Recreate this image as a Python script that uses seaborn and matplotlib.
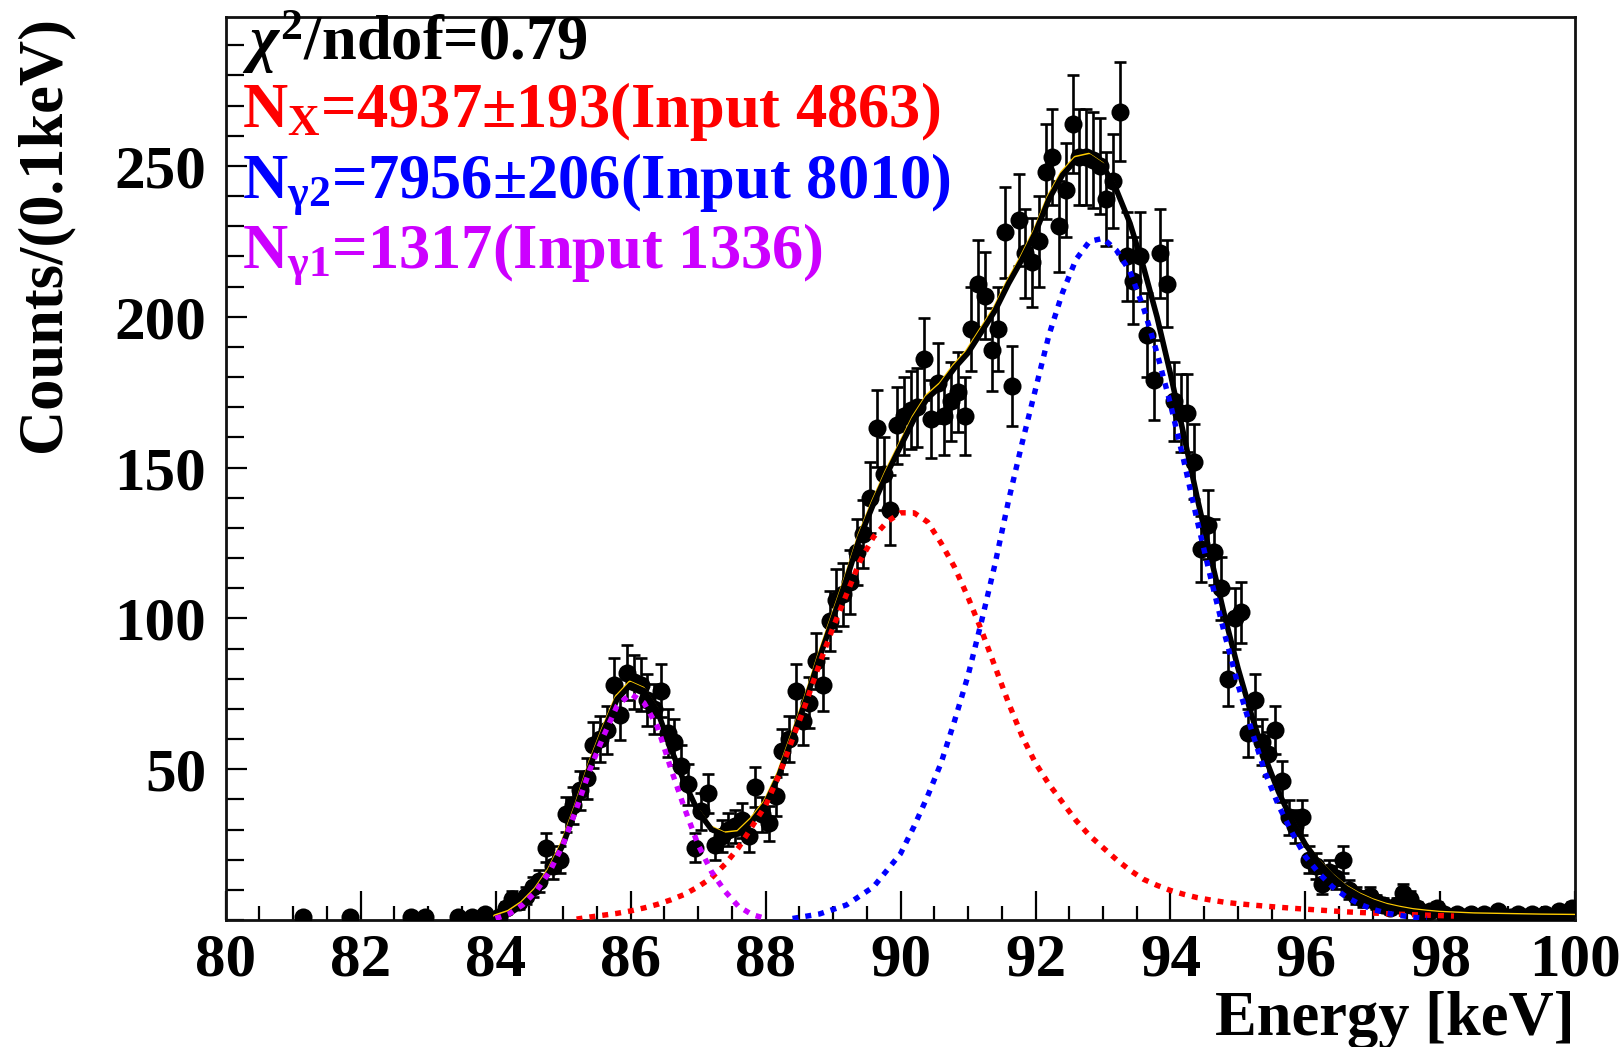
import numpy as np
import pandas as pd
import matplotlib
matplotlib.use("Agg")
import matplotlib.pyplot as plt
import matplotlib.transforms as mtransforms
from matplotlib.ticker import MultipleLocator, FixedLocator
import seaborn as sns

# ---------------- data ----------------
# histogram: 200 bins of 0.1 keV from 80 to 100 keV (counts per bin)
bin_low = 80.0
bin_width = 0.1
counts = [
    # 80.05 - 80.95
    0, 0, 0, 0, 0, 0, 0, 0, 0, 0,
    # 81.05 - 81.95
    0, 1, 0, 0, 0, 0, 0, 0, 1, 0,
    # 82.05 - 82.95
    0, 0, 0, 0, 0, 0, 0, 1, 0, 1,
    # 83.05 - 83.95
    0, 0, 0, 0, 1, 0, 1, 0, 2, 0,
    # 84.05 - 84.95
    1, 4, 7, 6, 8, 11, 13, 24, 18, 20,
    # 85.05 - 85.95
    35, 38, 43, 47, 58, 60, 63, 78, 68, 82,
    # 86.05 - 86.95
    79, 78, 73, 70, 76, 62, 59, 51, 45, 24,
    # 87.05 - 87.95
    36, 42, 25, 28, 30, 31, 33, 28, 44, 35,
    # 88.05 - 88.95
    32, 41, 56, 60, 76, 66, 72, 86, 78, 99,
    # 89.05 - 89.95
    106, 108, 112, 122, 128, 140, 163, 148, 136, 164,
    # 90.05 - 90.95
    167, 169, 170, 186, 166, 178, 167, 172, 175, 167,
    # 91.05 - 91.95
    196, 211, 207, 189, 196, 228, 177, 232, 221, 218,
    # 92.05 - 92.95
    225, 248, 253, 230, 242, 264, 253, 253, 252, 250,
    # 93.05 - 93.95
    239, 245, 268, 220, 212, 220, 194, 179, 221, 211,
    # 94.05 - 94.95
    172, 168, 168, 152, 123, 131, 122, 110, 80, 100,
    # 95.05 - 95.95
    102, 62, 73, 59, 55, 63, 46, 34, 31, 34,
    # 96.05 - 96.95
    20, 18, 12, 16, 14, 20, 10, 8, 7, 8,
    # 97.05 - 97.95
    6, 5, 4, 5, 9, 7, 4, 2, 3, 4,
    # 98.05 - 98.95
    2, 1, 2, 1, 2, 1, 2, 1, 3, 1,
    # 99.05 - 99.95
    1, 2, 1, 2, 1, 2, 1, 3, 1, 4,
]

# fit component N_gamma1 (violet dotted)
g1_energy = [84.0, 84.2, 84.4, 84.6, 84.8, 85.0, 85.2, 85.4, 85.6, 85.8, 86.0,
             86.2, 86.4, 86.6, 86.8, 87.0, 87.2, 87.4, 87.6, 87.8, 88.0]
g1_fit = [0.5, 2, 5, 9.5, 16, 25, 37, 50, 61, 71, 75,
          72, 64, 50, 37, 25, 16, 9.5, 4.5, 1.8, 0.5]

# fit component N_X (red dotted)
x_energy = [85.2, 85.4, 85.6, 85.8, 86.0, 86.2, 86.4, 86.6, 86.8, 87.0,
            87.2, 87.4, 87.6, 87.8, 88.0, 88.2, 88.4, 88.6, 88.8, 89.0,
            89.2, 89.4, 89.6, 89.8, 90.0, 90.2, 90.4, 90.6, 90.8, 91.0,
            91.2, 91.4, 91.6, 91.8, 92.0, 92.2, 92.4, 92.6, 92.8, 93.0,
            93.2, 93.4, 93.6, 93.8, 94.0, 94.2, 94.4, 94.6, 94.8, 95.0,
            95.4, 95.8, 96.2, 96.6, 97.0, 97.4, 97.8, 98.2]
x_fit = [0.3, 1, 1.6, 2.2, 3, 4, 5.2, 6.7, 8.5, 11,
         14, 18.5, 24, 31, 38, 48, 60, 72, 85, 97,
         108, 119, 127, 132, 135, 135, 132, 125, 117, 107,
         96, 84, 72, 61, 52, 45, 39, 33, 28, 24,
         20, 16.5, 13.5, 11.5, 9.8, 8.5, 7.4, 6.6, 5.9, 5.4,
         4.6, 3.9, 3.3, 2.7, 2.3, 1.9, 1.6, 1.3]

# fit component N_gamma2 (blue dotted)
g2_energy = [88.4, 88.8, 89.2, 89.6, 90.0, 90.2, 90.4, 90.6, 90.8, 91.0,
             91.2, 91.4, 91.6, 91.8, 92.0, 92.2, 92.4, 92.6, 92.8, 93.0,
             93.2, 93.4, 93.6, 93.8, 94.0, 94.2, 94.4, 94.6, 94.8, 95.0,
             95.2, 95.4, 95.6, 95.8, 96.0, 96.2, 96.4, 96.6, 96.8, 97.0,
             97.2, 97.4, 97.6, 97.8]
g2_fit = [0.5, 2, 5, 11, 22, 31, 41, 52, 66, 81,
          99, 118, 139, 158, 176, 194, 208, 219, 225, 226,
          222, 215, 203, 188, 171, 152, 132, 113, 95, 78,
          63, 49, 38, 29, 21, 15.5, 11, 7.7, 5.3, 3.5,
          2.3, 1.5, 0.9, 0.5]

# total fit (black solid, orange underneath)
total_energy = [84.0, 84.2, 84.4, 84.6, 84.8, 85.0, 85.2, 85.4, 85.6, 85.8,
                86.0, 86.2, 86.4, 86.6, 86.8, 87.0, 87.2, 87.4, 87.6, 87.8,
                88.0, 88.2, 88.4, 88.6, 88.8, 89.0, 89.2, 89.4, 89.6, 89.8,
                90.0, 90.2, 90.4, 90.6, 90.8, 91.0, 91.2, 91.4, 91.6, 91.8,
                92.0, 92.2, 92.4, 92.6, 92.8, 93.0, 93.2, 93.4, 93.6, 93.8,
                94.0, 94.2, 94.4, 94.6, 94.8, 95.0, 95.2, 95.4, 95.6, 95.8,
                96.0, 96.2, 96.4, 96.6, 96.8, 97.0, 97.2, 97.4, 97.6, 97.8,
                98.0, 98.5, 99.0, 99.5, 100.0]
total_fit = [0.5, 2, 5, 9.5, 16, 25, 37.3, 51, 62.6, 73.2,
             78, 76, 69.2, 56.7, 45.5, 36, 30, 28, 28.5, 32.8,
             38.5, 48, 60.5, 73, 87, 100, 113, 127, 138, 148,
             157, 166, 173, 177, 183, 188, 195, 202, 211, 219,
             228, 239, 247, 252, 253, 250, 242, 231, 216.5, 200,
             181, 160.5, 139.5, 120, 101, 83.5, 68, 54, 42.5, 33,
             25, 19, 14.3, 10.5, 7.9, 5.9, 4.4, 3.4, 2.6, 2.1,
             1.7, 1.2, 1.0, 0.8, 0.7]

y_ticks = [50, 100, 150, 200, 250]
x_ticks = [80, 82, 84, 86, 88, 90, 92, 94, 96, 98, 100]

label_chi = r"$\chi^{2}$/ndof=0.79"
label_x = r"N$_{\mathrm{X}}$=4937±193(Input 4863)"
label_g2 = r"N$_{\mathrm{\gamma 2}}$=7956±206(Input 8010)"
label_g1 = r"N$_{\mathrm{\gamma 1}}$=1317(Input 1336)"

# ---------------- style ----------------
sns.set_theme(style="white")
plt.rcParams["font.family"] = ["Liberation Serif", "DejaVu Serif"]
plt.rcParams["font.weight"] = "bold"
plt.rcParams["text.color"] = "black"
plt.rcParams["axes.labelcolor"] = "black"
plt.rcParams["xtick.color"] = "black"
plt.rcParams["ytick.color"] = "black"
plt.rcParams["mathtext.fontset"] = "custom"
plt.rcParams["mathtext.rm"] = "Liberation Serif:bold"
plt.rcParams["mathtext.bf"] = "Liberation Serif:bold"
plt.rcParams["mathtext.it"] = "Liberation Serif:italic"

VIOLET = "#cc00ff"
RED = "#ff0000"
BLUE = "#0000ff"
ORANGE = "#ffcc00"

fig = plt.figure(figsize=(16.23, 10.47), dpi=100)
ax = fig.add_axes([0.139, 0.1213, 0.8317, 0.8628])

# histogram points
centers = bin_low + bin_width * (np.arange(len(counts)) + 0.5)
hist = pd.DataFrame({"energy": centers, "counts": counts})
hist = hist[hist["counts"] > 0].reset_index(drop=True)
hist["err"] = np.sqrt(hist["counts"])

ax.errorbar(hist["energy"], hist["counts"], yerr=hist["err"], fmt="none",
            ecolor="black", elinewidth=1.9, capsize=4.2, capthick=1.9, zorder=2)
sns.scatterplot(data=hist, x="energy", y="counts", ax=ax, color="black",
                s=13.0 ** 2, marker="o", linewidth=0, zorder=3, legend=False)

# fit curves
dotted = (0, (1.1, 1.3))
sns.lineplot(x=total_energy, y=total_fit, ax=ax, color=ORANGE, lw=2.4,
             sort=False, estimator=None, zorder=4)
orange_line = ax.lines[-1]
orange_line.set_transform(ax.transData + mtransforms.ScaledTranslation(
    -0.6 / 72, 1.8 / 72, fig.dpi_scale_trans))
sns.lineplot(x=total_energy, y=total_fit, ax=ax, color="black", lw=4.0,
             sort=False, estimator=None, zorder=4.5)
for e, y, c in [(x_energy, x_fit, RED), (g2_energy, g2_fit, BLUE),
                (g1_energy, g1_fit, VIOLET)]:
    sns.lineplot(x=e, y=y, ax=ax, color=c, lw=3.9, linestyle=dotted,
                 sort=False, estimator=None, zorder=5, dash_capstyle="butt")

# axes
ax.set_xlim(80, 100)
ax.set_ylim(0, 299.5)
ax.xaxis.set_major_locator(FixedLocator(x_ticks))
ax.xaxis.set_minor_locator(MultipleLocator(0.5))
ax.yaxis.set_major_locator(FixedLocator(y_ticks))
ax.yaxis.set_minor_locator(MultipleLocator(10))
ax.tick_params(which="both", direction="in", bottom=True, left=True,
               top=False, right=False, color="black", width=1.6,
               labelsize=44, labelcolor="black")
ax.tick_params(axis="x", which="major", length=21, pad=9)
ax.tick_params(axis="x", which="minor", length=10)
ax.tick_params(axis="y", which="major", length=15, pad=14)
ax.tick_params(axis="y", which="minor", length=13)
for lab in ax.get_xticklabels() + ax.get_yticklabels():
    lab.set_fontweight("bold")
for sp in ax.spines.values():
    sp.set_color("#111111")
    sp.set_linewidth(2.0)

ax.set_xlabel("Energy [keV]", fontsize=45, fontweight="bold", color="black")
ax.xaxis.set_label_coords(0.9704, 1 - 1035 / 1047, transform=fig.transFigure)
ax.xaxis.label.set_ha("right")
ax.xaxis.label.set_va("baseline")
ax.set_ylabel("Counts/(0.1keV)", fontsize=45, fontweight="bold", color="black")
ax.yaxis.set_label_coords(44 / 1623, 1 - 16 / 1047, transform=fig.transFigure)
ax.yaxis.label.set_ha("right")
ax.yaxis.label.set_va("center")

# fit annotations
tx = 242 / 1623
for txt, col, base in [(label_chi, "black", 60), (label_x, RED, 127),
                       (label_g2, BLUE, 197), (label_g1, VIOLET, 267)]:
    fig.text(tx, 1 - base / 1047, txt, color=col, fontsize=45,
             fontweight="bold", ha="left", va="baseline")

fig.savefig("out.png", dpi=100)
